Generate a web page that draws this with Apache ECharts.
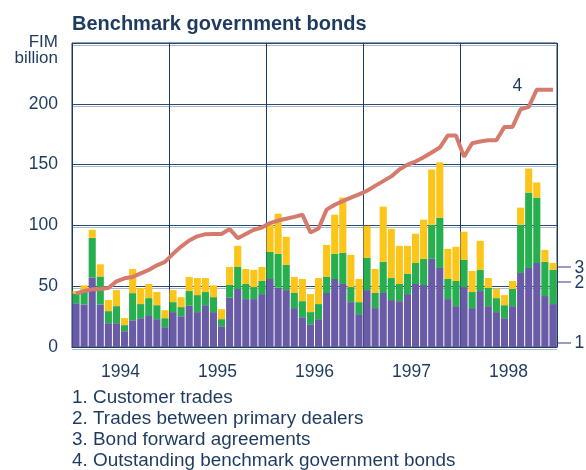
<!DOCTYPE html>
<html><head><meta charset="utf-8">
<script src="https://cdn.jsdelivr.net/npm/echarts@6/dist/echarts.min.js"></script>
<style>html,body{margin:0;padding:0;background:#fff}#c{width:586px;height:470px}</style>
</head><body><div id="c"></div>
<script>
const years = ['1994','1995','1996','1997','1998'];
const months = [];
years.forEach(y => { for (let m = 1; m <= 12; m++) months.push(y + '-' + m); });

const customerTrades = [
  36, 35, 57, 35, 19.6, 19.6, 13, 22, 23.7, 26.2, 22.9, 16.3,
  28.7, 25.3, 33.9, 28.7, 34.4, 28.7, 17.1, 40.5, 47.7, 39.4, 39.4, 43.5,
  55.9, 48.8, 46.8, 32, 24.5, 18.7, 22.9, 44.4, 55.9, 51.8, 36.9, 27,
  46.8, 32, 44.4, 38.6, 37.7, 43.5, 51.8, 51, 72.5, 65, 39.4, 33.6,
  49.3, 32, 46, 33.6, 28.7, 23.7, 33.6, 60.9, 65, 69.1, 41.9, 35.3
];
const dealerTrades = [
  8, 12.4, 32.8, 23, 9.9, 14, 5, 22.3, 11.6, 14, 11.5, 7.4,
  8.2, 7.5, 12.1, 14, 10.8, 12.3, 5.8, 10.5, 18.1, 12.4, 9.9, 10.8,
  22.3, 27.8, 20.7, 12.4, 13.2, 10, 12.4, 13.2, 20.7, 25.6, 12.4, 9.9,
  26.5, 12.4, 25.6, 18.1, 14.1, 16.6, 17.3, 21.5, 28.1, 41.3, 16.5, 20.7,
  22.3, 13.2, 17.4, 14.9, 11.5, 10.7, 14.1, 39.7, 62, 53.8, 28.1, 28.1
];
const forwardAgreements = [
  2, 3.3, 6.6, 10, 9.1, 13.2, 5.8, 19.8, 13.2, 11.6, 10.8, 6.6,
  9.9, 8.2, 11.6, 14, 11.5, 9.7, 8.2, 14.8, 17.4, 12.4, 14.1, 11.5,
  22.4, 33, 23.1, 13.2, 18.2, 14.8, 21.4, 26.4, 32.2, 45.5, 26.5, 19,
  26.4, 19.8, 45.4, 40.5, 31.4, 23.1, 24, 32.2, 45.4, 45.5, 24.8, 28.1,
  23.2, 17.3, 23.9, 8.2, 7.5, 8.3, 6.6, 14, 19.8, 12.4, 9.9, 5.7
];
const outstanding = [
  44, 46, 47.4, 47.7, 48.5, 54, 56.5, 57.6, 60.6, 63.4, 67.2, 70,
  76.6, 82.6, 87.6, 91, 92.8, 93, 93, 97, 89.5, 93, 96.4, 98.3,
  101.9, 104, 105.5, 107, 108.8, 94.2, 97.5, 113, 117, 120, 122.8, 125.5,
  128.5, 132.5, 136.4, 140.3, 146, 150, 152.5, 156, 160, 164, 174, 174,
  156.5, 167.5, 169, 170, 170, 181, 181, 195.5, 197.5, 211.6, 211.6, 211.6
];
const yTicks = [0, 50, 100, 150, 200];
const legendLines = [
  '1. Customer trades',
  '2. Trades between primary dealers',
  '3. Bond forward agreements',
  '4. Outstanding benchmark government bonds'
];

const NAVY = '#1d3a5f';
const FONT = '"Liberation Sans", Arial, sans-serif';
const chart = echarts.init(document.getElementById('c'), null, {renderer: 'canvas'});

const gridL = 72, gridR = 29, gridT = 43, gridB = 123;
const LEG_FS = 17.5;
const legendTops = [389.6, 410.4, 431.1, 451.8];

function txt(t, x, y, fs, extra) {
  return Object.assign({type: 'text', x: x, y: y,
    style: {text: t, x: 0, y: 0, fontSize: fs, fill: NAVY, fontFamily: FONT, verticalAlign: 'top'}}, extra || {});
}

const legendGraphics = legendLines.map((t, i) =>
  txt(t, 72, legendTops[i], LEG_FS, {scaleX: 1.08, originX: 0, originY: 0}));

chart.setOption({
  animation: false,
  backgroundColor: '#fff',
  textStyle: {fontFamily: FONT, color: NAVY},
  title: {
    text: 'Benchmark government bonds',
    left: 67, top: 9,
    textStyle: {fontFamily: FONT, fontSize: 20, fontWeight: 'bold', color: NAVY}
  },
  grid: {left: gridL, right: gridR, top: gridT, bottom: gridB, show: true, borderColor: NAVY, borderWidth: 1, backgroundColor: 'transparent'},
  xAxis: [
    {type: 'category', data: months, boundaryGap: true,
     axisLine: {show: true, lineStyle: {color: NAVY}}, axisTick: {show: false},
     axisLabel: {show: false}, splitLine: {show: false}},
    {type: 'category', data: years, boundaryGap: true, position: 'bottom',
     axisLine: {show: false}, axisTick: {show: false},
     axisLabel: {show: true, margin: 16, fontSize: 17.5, color: NAVY, fontFamily: FONT},
     splitLine: {show: true, lineStyle: {color: NAVY, width: 1}}}
  ],
  yAxis: {
    type: 'value', min: 0, max: 250, interval: 50,
    axisLine: {show: false}, axisTick: {show: false},
    axisLabel: {fontSize: 17.5, color: NAVY, margin: 14, fontFamily: FONT,
      formatter: v => (yTicks.indexOf(v) >= 0 ? String(v) : '')},
    splitLine: {show: true, lineStyle: {color: '#2b4a70', width: 1, shadowColor: '#a9b9cc', shadowOffsetY: 2, shadowBlur: 0}}
  },
  series: [
    {name: 'Customer trades', type: 'bar', stack: 't', data: customerTrades, barCategoryGap: '12%', itemStyle: {color: '#6a5ba6'}},
    {name: 'Trades between primary dealers', type: 'bar', stack: 't', data: dealerTrades, itemStyle: {color: '#27ae4f'}},
    {name: 'Bond forward agreements', type: 'bar', stack: 't', data: forwardAgreements, itemStyle: {color: '#fbc619'}},
    {name: 'Outstanding benchmark government bonds', type: 'line', data: outstanding, symbol: 'none', z: 5,
     lineStyle: {color: '#d57b6d', width: 4}}
  ],
  graphic: [
    {type: 'text', x: 58, y: 34.3, style: {text: 'FIM', x: 0, y: 0, fontSize: 17, fill: NAVY, fontFamily: FONT, align: 'right', verticalAlign: 'top'}},
    {type: 'text', x: 58, y: 50.3, style: {text: 'billion', x: 0, y: 0, fontSize: 17, fill: NAVY, fontFamily: FONT, align: 'right', verticalAlign: 'top'}},
    txt('4', 512.5, 77.6, 17.5),
    {type: 'line', shape: {x1: 557, y1: 267, x2: 571, y2: 267}, style: {stroke: '#2b3a8f', lineWidth: 1}},
    {type: 'line', shape: {x1: 557, y1: 282, x2: 571, y2: 282}, style: {stroke: '#2b3a8f', lineWidth: 1}},
    {type: 'line', shape: {x1: 557, y1: 343, x2: 571, y2: 343}, style: {stroke: '#2b3a8f', lineWidth: 1}},
    txt('3', 574.5, 259, 17.5),
    txt('2', 574.5, 274.6, 17.5),
    txt('1', 574.5, 334.6, 17.5)
  ].concat(legendGraphics)
});
</script></body></html>
